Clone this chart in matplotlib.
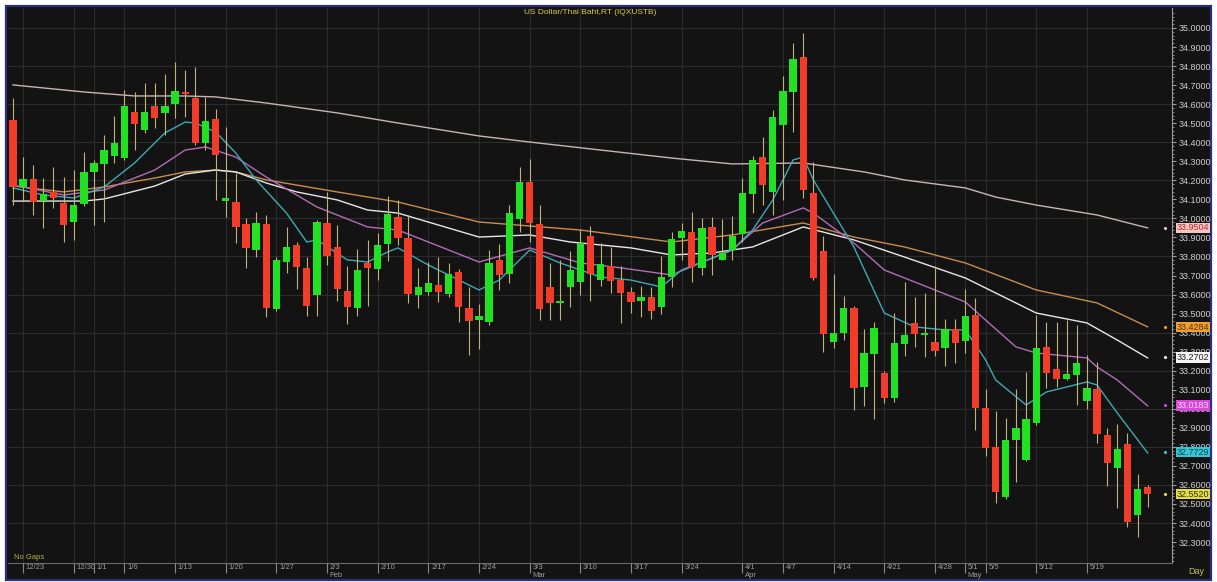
import numpy as np
import pandas as pd
import matplotlib
matplotlib.use('Agg')
import matplotlib.pyplot as plt
import matplotlib.transforms as mtransforms
from matplotlib.patches import Rectangle

plt.rcParams['font.family'] = ['Liberation Sans', 'DejaVu Sans']

# daily bars, 12/20/2024 .. 5/27/2025 (weekdays)
dates = pd.bdate_range('2024-12-20', periods=113)

opens = [34.517,34.165,34.207,34.091,34.139,34.081,33.981,34.076,34.244,34.286,
         34.328,34.317,34.559,34.464,34.590,34.554,34.601,34.664,34.632,34.396,
         34.522,34.091,34.086,33.971,33.834,33.971,33.524,33.771,33.860,33.740,
         33.598,33.976,33.850,33.619,33.529,33.766,33.734,33.866,34.007,33.897,
         33.598,33.613,33.650,33.603,33.719,33.529,33.466,33.456,33.782,33.708,
         33.997,34.191,33.971,33.640,33.556,33.640,33.666,33.908,33.676,33.750,
         33.676,33.613,33.566,33.587,33.535,33.692,33.897,33.929,33.740,33.955,
         33.782,33.834,33.918,34.128,34.322,34.139,34.491,34.664,34.848,34.133,
         33.829,33.351,33.398,33.529,33.114,33.288,33.188,33.057,33.340,33.451,
         33.388,33.351,33.319,33.419,33.356,33.493,33.004,32.800,32.537,32.836,
         32.731,32.925,33.325,33.209,33.157,33.178,33.041,33.104,32.862,32.689,
         32.815,32.442,32.589]
highs = [34.632,34.322,34.280,34.212,34.270,34.217,34.254,34.349,34.307,34.438,
         34.538,34.674,34.664,34.711,34.711,34.758,34.821,34.779,34.795,34.638,
         34.575,34.480,34.238,34.002,34.034,34.018,33.797,33.955,33.876,33.797,
         33.992,34.139,33.965,33.750,33.839,33.887,33.923,34.118,34.097,34.018,
         33.740,33.771,33.797,33.766,33.734,33.640,33.550,33.834,33.866,34.070,
         34.270,34.312,34.070,33.766,33.782,33.829,33.939,33.960,33.871,33.850,
         33.750,33.640,33.645,33.640,33.803,33.929,33.976,34.034,34.002,34.007,
         33.997,34.013,34.212,34.328,34.428,34.569,34.748,34.921,34.974,34.296,
         33.908,33.708,33.592,33.540,33.419,33.456,33.199,33.503,33.666,33.587,
         33.608,33.750,33.472,33.472,33.629,33.582,33.104,32.988,32.952,33.104,
         33.193,33.493,33.456,33.456,33.466,33.440,33.283,33.246,32.899,32.920,
         32.873,32.658,32.600]
lows = [34.070,34.097,34.018,33.950,34.055,33.876,33.887,34.065,33.965,33.981,
        34.291,34.307,34.359,34.449,34.475,34.438,34.527,34.533,34.386,34.359,
        34.097,34.007,33.871,33.740,33.797,33.482,33.514,33.713,33.629,33.487,
        33.487,33.755,33.566,33.445,33.487,33.540,33.676,33.776,33.860,33.556,
        33.529,33.598,33.561,33.587,33.456,33.283,33.314,33.440,33.624,33.661,
        33.929,33.876,33.466,33.466,33.466,33.535,33.598,33.566,33.645,33.608,
        33.451,33.503,33.482,33.472,33.498,33.640,33.782,33.666,33.703,33.703,
        33.782,33.782,33.876,34.028,34.070,34.018,34.097,34.454,34.107,33.676,
        33.298,33.319,33.361,32.994,33.015,32.946,33.031,33.036,33.277,33.325,
        33.272,33.277,33.225,33.241,33.293,32.889,32.752,32.505,32.526,32.616,
        32.726,32.915,33.109,33.114,33.151,33.020,32.999,32.820,32.595,32.479,
        32.379,32.327,32.484]
closes = [34.165,34.207,34.086,34.128,34.107,33.965,34.070,34.244,34.291,34.359,
          34.396,34.590,34.496,34.559,34.527,34.590,34.669,34.653,34.396,34.512,
          34.333,34.107,33.955,33.845,33.976,33.529,33.782,33.850,33.745,33.540,
          33.981,33.803,33.629,33.535,33.729,33.740,33.860,34.023,33.897,33.603,
          33.640,33.661,33.613,33.708,33.535,33.461,33.487,33.766,33.703,34.028,
          34.191,33.976,33.524,33.556,33.566,33.729,33.871,33.708,33.761,33.671,
          33.608,33.561,33.587,33.514,33.692,33.892,33.934,33.745,33.950,33.808,
          33.818,33.908,34.133,34.307,34.175,34.533,34.669,34.837,34.149,33.687,
          33.393,33.398,33.529,33.109,33.293,33.424,33.057,33.346,33.388,33.393,
          33.398,33.304,33.419,33.346,33.487,33.004,32.794,32.563,32.836,32.899,
          32.946,33.319,33.188,33.157,33.183,33.241,33.109,32.868,32.715,32.789,
          32.405,32.579,32.553]

# moving average lines (bar index, value)
ma_long_x = [0,7,12,17,20,25,32,38,46,51,58,65,71,78,84,88,94,97,101,107,112]
ma_long_y = [34.701,34.664,34.643,34.643,34.638,34.606,34.554,34.501,34.433,34.401,34.359,
             34.317,34.286,34.291,34.244,34.202,34.160,34.112,34.070,34.018,33.950]
ma_orange_x = [0,5,9,14,17,20,22,25,28,32,38,46,56,65,71,78,83,88,94,101,107,112]
ma_orange_y = [34.170,34.139,34.165,34.212,34.244,34.254,34.244,34.202,34.175,34.139,34.086,
               33.981,33.939,33.876,33.913,33.976,33.902,33.850,33.766,33.624,33.556,33.430]
ma_white_x = [0,7,9,14,17,20,22,25,28,32,35,38,46,51,55,61,65,69,73,78,83,88,94,101,106,109,112]
ma_white_y = [34.091,34.091,34.102,34.170,34.233,34.254,34.244,34.186,34.139,34.097,34.044,
              34.028,33.902,33.913,33.876,33.845,33.808,33.818,33.850,33.955,33.887,33.797,
              33.687,33.503,33.451,33.361,33.267]
ma_magenta_x = [0,5,9,14,17,19,22,25,30,35,38,46,51,56,60,65,71,74,78,79,83,86,91,94,96,99,
                101,106,107,109,112]
ma_magenta_y = [34.175,34.123,34.149,34.254,34.359,34.375,34.322,34.217,34.060,33.955,33.939,
                33.771,33.845,33.766,33.740,33.703,33.834,33.976,34.055,34.028,33.871,33.729,
                33.624,33.561,33.466,33.325,33.293,33.267,33.220,33.151,33.015]
ma_cyan_x = [0,3,6,9,12,15,17,18,20,22,24,27,29,30,33,35,37,38,41,46,48,51,54,58,61,64,66,71,
             73,75,77,78,79,83,86,89,92,94,96,97,100,102,106,107,109,112]
ma_cyan_y = [34.160,34.123,34.107,34.165,34.291,34.449,34.506,34.501,34.454,34.343,34.202,
             34.028,33.876,33.887,33.782,33.771,33.824,33.845,33.755,33.624,33.676,33.834,
             33.766,33.692,33.676,33.640,33.729,33.834,33.939,34.097,34.307,34.322,34.202,
             33.850,33.503,33.430,33.414,33.414,33.257,33.151,33.020,33.088,33.141,33.125,
             32.978,32.768]

last_values = [33.9504, 33.4284, 33.2702, 33.0183, 32.7729, 32.5520]
label_bg = ['#f3c6c6', '#f0a030', '#f4f4f4', '#d848d8', '#38c4d4', '#e4dc48']
label_fg = ['#c02828', '#5a3000', '#202020', '#ffd8ff', '#0a4a55', '#303000']

tick_days = ['2024-12-23','2024-12-30','2025-01-01','2025-01-06','2025-01-13','2025-01-20',
             '2025-01-27','2025-02-03','2025-02-10','2025-02-17','2025-02-24','2025-03-03',
             '2025-03-10','2025-03-17','2025-03-24','2025-04-01','2025-04-07','2025-04-14',
             '2025-04-21','2025-04-28','2025-05-01','2025-05-05','2025-05-12','2025-05-19']
tick_labels = ['12/23','12/30','1/1','1/6','1/13','1/20','1/27','2/3','2/10','2/17','2/24',
               '3/3','3/10','3/17','3/24','4/1','4/7','4/14','4/21','4/28','5/1','5/5','5/12','5/19']
month_days = ['2025-02-03','2025-03-03','2025-04-01','2025-05-01']
month_labels = ['Feb','Mar','Apr','May']

W, H = 1217, 582
fig = plt.figure(figsize=(W/100, H/100), dpi=100, facecolor='white')
def fx(px): return px / W
def fy(py): return 1 - py / H

fig.patches.append(Rectangle((fx(6), fy(580)), fx(1211)-fx(6), fy(6)-fy(580),
                             transform=fig.transFigure, facecolor='#131313',
                             edgecolor='#2c2c80', linewidth=1.6, zorder=-10))

ax = fig.add_axes([fx(8), fy(563), fx(1172)-fx(8), fy(8)-fy(563)])
ax.set_zorder(2)
ax.set_facecolor('#131313')
x = np.arange(len(dates))
ax.set_xlim(-0.49, 114.4)
ax.set_ylim(32.190, 35.105)

tick_idx = [dates.get_loc(pd.Timestamp(d)) for d in tick_days]
month_idx = [dates.get_loc(pd.Timestamp(d)) for d in month_days]

# grid
for lv in np.arange(32.4, 35.01, 0.2):
    ax.axhline(lv, color='#2c2c2c', lw=0.8, zorder=0)
for i in tick_idx:
    ax.axvline(i, color='#2c2c2c', lw=0.8, zorder=0)

# moving averages
ax.plot(ma_long_x, ma_long_y, color='#c8b4b2', lw=1.0, zorder=2)
ax.plot(ma_orange_x, ma_orange_y, color='#c98c4c', lw=1.0, zorder=2)
ax.plot(ma_white_x, ma_white_y, color='#e6e6e6', lw=1.0, zorder=2)
ax.plot(ma_magenta_x, ma_magenta_y, color='#b26cb8', lw=1.0, zorder=2)
ax.plot(ma_cyan_x, ma_cyan_y, color='#3fa8b4', lw=1.0, zorder=2)

# candles
o = np.array(opens); c = np.array(closes)
up = c >= o
colors = np.where(up, '#22e022', '#f03c28')
ax.vlines(x, lows, highs, color='#c2b27a', lw=0.8, zorder=3)
body_lo = np.minimum(o, c)
body_h = np.maximum(np.abs(c - o), 0.008)
ax.bar(x, body_h, bottom=body_lo, width=0.72, color=colors, edgecolor='none', zorder=4)

# axes styling
for s in ['left', 'top']:
    ax.spines[s].set_visible(False)
ax.spines['right'].set_color('#9a9a9a')
ax.spines['bottom'].set_color('#6a6a6a')
ax.yaxis.tick_right()
yt = np.arange(32.3, 35.01, 0.1)
ax.set_yticks(yt)
ax.set_yticklabels(['{:.4f}'.format(v) for v in yt])
ax.set_yticks(np.arange(32.2, 35.1, 0.02), minor=True)
ax.tick_params(axis='y', which='major', length=3, color='#9a9a9a', labelsize=6.5,
               labelcolor='#d0d0d0', pad=2)
ax.tick_params(axis='y', which='minor', length=1.5, color='#9a9a9a')

ax.set_xticks(tick_idx)
ax.set_xticklabels(tick_labels)
ax.set_xticks(month_idx, minor=True)
ax.tick_params(axis='x', which='major', length=7, color='#8a8a8a', labelsize=5.5,
               labelcolor='#9c9c9c', pad=-6)
ax.tick_params(axis='x', which='minor', length=15, color='#8a8a8a')
shift = mtransforms.ScaledTranslation(2/72, 0, fig.dpi_scale_trans)
for lbl in ax.get_xticklabels():
    lbl.set_ha('left')
    lbl.set_transform(lbl.get_transform() + shift)
bt = mtransforms.blended_transform_factory(ax.transData, ax.transAxes)
for i, m in zip(month_idx, month_labels):
    ax.text(i + 0.25, -0.016, m, transform=bt, ha='left', va='top',
            fontsize=5.5, color='#9c9c9c')

# value tags on the price axis
rt = mtransforms.blended_transform_factory(ax.transAxes, ax.transData)
for v, bg, fg in zip(last_values, label_bg, label_fg):
    ax.text(1.004, v, '{:.4f}'.format(v), transform=rt, ha='left', va='center',
            fontsize=6.5, color=fg, clip_on=False, zorder=6,
            bbox=dict(boxstyle='square,pad=0.08', fc=bg, ec='none'))
    ax.plot([0.994], [v], marker='.', ms=2.5, color=bg, transform=rt, clip_on=False)

ax.text(0.5, 0.998, 'US Dollar/Thai Baht,RT (IQXUSTB)', transform=ax.transAxes,
        ha='center', va='top', fontsize=6, color='#d8cc48')
ax.text(0.005, 0.004, 'No Gaps', transform=ax.transAxes, ha='left', va='bottom',
        fontsize=5.5, color='#b8b040')
fig.text(fx(1196), fy(572), 'Day', ha='center', va='center', fontsize=6.5, color='#c4bc58')

fig.savefig('out.png', dpi=100, facecolor=fig.get_facecolor())
